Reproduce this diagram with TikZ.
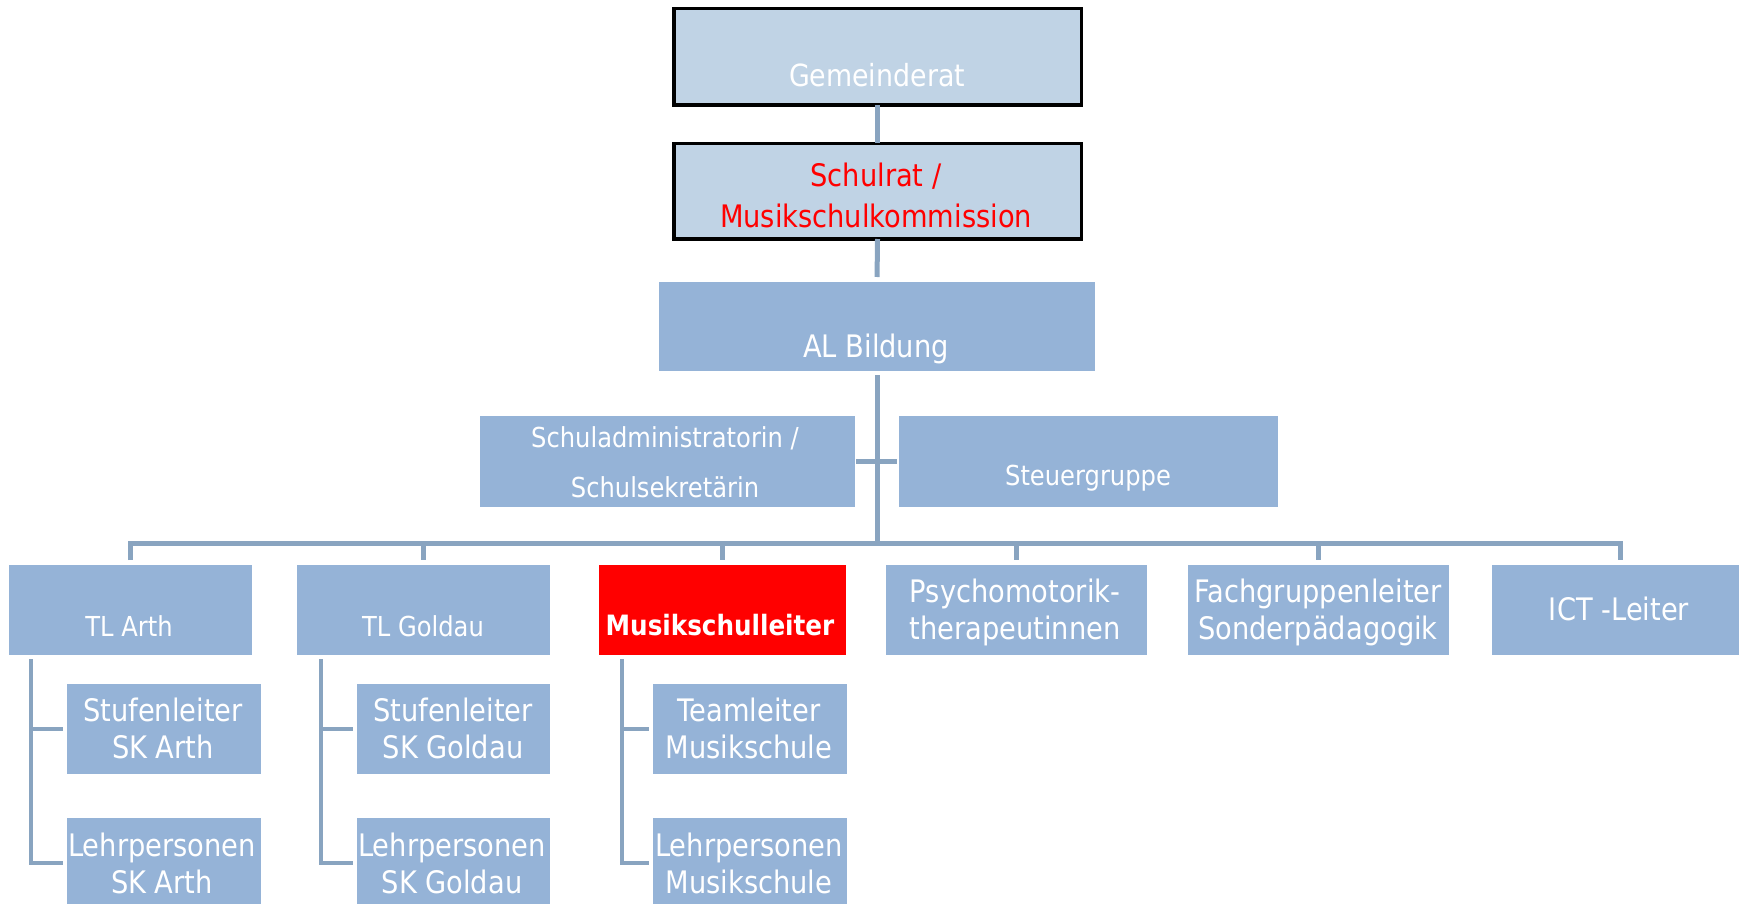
\documentclass[tikz,border=0pt]{standalone}
\usepackage{fontspec}
\setmainfont{DejaVu Sans}[FakeStretch=0.88]
\definecolor{boxblue}{RGB}{149,179,215}
\definecolor{topblue}{RGB}{192,211,229}
\definecolor{connc}{RGB}{137,164,192}
\definecolor{redc}{RGB}{255,0,0}
\begin{document}
\begin{tikzpicture}[x=1pt,y=-1pt,
  bx/.style={rectangle, fill=boxblue, draw=none, inner sep=0pt, outer sep=0pt, anchor=north west},
  topbx/.style={bx, fill=topblue, draw=black, line width=3.5pt},
  redbx/.style={bx, fill=redc},
  big/.style={anchor=base, text=white, inner sep=0pt, align=center, font=\fontsize{31}{37}\selectfont},
  small/.style={big, font=\fontsize{27.5}{50}\selectfont},
  boldt/.style={big, font=\fontsize{28}{34}\selectfont\bfseries},
  conn/.style={draw=connc, line width=5pt}
]
\useasboundingbox (0,0) rectangle (1739,904);

% boxes
\node[topbx, minimum width=407.5pt, minimum height=96.5pt] (gem) at (673.75,8.75) {};
\node[topbx, minimum width=407.5pt, minimum height=95.5pt] (schul) at (673.75,143.5) {};
\node[bx, minimum width=436pt, minimum height=89pt] (al) at (659,282) {};
\node[bx, minimum width=375pt, minimum height=91pt] (admin) at (480,416) {};
\node[bx, minimum width=379pt, minimum height=91pt] (steuer) at (899,416) {};
\node[bx, minimum width=243pt, minimum height=90pt] (tlarth) at (9,565) {};
\node[bx, minimum width=253pt, minimum height=90pt] (tlgold) at (297,565) {};
\node[redbx, minimum width=247pt, minimum height=90pt] (msl) at (599,565) {};
\node[bx, minimum width=261pt, minimum height=90pt] (psy) at (886,565) {};
\node[bx, minimum width=261pt, minimum height=90pt] (fach) at (1188,565) {};
\node[bx, minimum width=256pt, minimum height=90pt] (ict) at (1492,565) {};
\node[bx, minimum width=194pt, minimum height=90pt] (stufa) at (67,684) {};
\node[bx, minimum width=194pt, minimum height=90pt] (lehra) at (67,818) {};
\node[bx, minimum width=193pt, minimum height=90pt] (stufg) at (357,684) {};
\node[bx, minimum width=193pt, minimum height=90pt] (lehrg) at (357,818) {};
\node[bx, minimum width=194pt, minimum height=90pt] (team) at (653,684) {};
\node[bx, minimum width=194pt, minimum height=90pt] (lehrm) at (653,818) {};

% texts (anchor base = baseline of the last line)
\node[big, font=\fontsize{30.5}{37}\selectfont] (tgem) at (877,87) {Gemeinderat};
\node[big, text=redc, font=\fontsize{31}{40}\selectfont] (tschul) at (876,227) {Schulrat /\\Musikschulkommission};
\node[big] (tal) at (876,357) {AL Bildung};
\node[small] (tadmin) at (665,497) {Schuladministratorin /\\Schulsekretärin};
\node[small] (tsteuer) at (1088,485) {Steuergruppe};
\node[small] (ttlarth) at (129,636) {TL Arth};
\node[small] (ttlgold) at (423,636) {TL Goldau};
\node[boldt] (tmsl) at (720,635) {Musikschulleiter};
\node[big] (tpsy) at (1015,639) {Psychomotorik-\\therapeutinnen};
\node[big] (tfach) at (1318,639) {Fachgruppenleiter\\Sonderpädagogik};
\node[big] (tict) at (1619,620) {ICT -Leiter};
\node[big] (tstufa) at (163,758) {Stufenleiter\\SK Arth};
\node[big] (tlehra) at (162,893) {Lehrpersonen\\SK Arth};
\node[big] (tstufg) at (453,758) {Stufenleiter\\SK Goldau};
\node[big] (tlehrg) at (452,893) {Lehrpersonen\\SK Goldau};
\node[big] (tteam) at (749,758) {Teamleiter\\Musikschule};
\node[big] (tlehrm) at (749,893) {Lehrpersonen\\Musikschule};

% connectors
\coordinate (bar) at (877,543);
\draw[conn] (gem.south) -- (schul.north);
\draw[conn, shorten >=5pt] (schul.south) -- (al.north);
\draw[conn, shorten <=4pt] (al.south) -- (bar);
\draw[conn, shorten <=1pt, shorten >=2pt] (admin.east) -- (steuer.west);
\draw[conn] ([yshift=5pt]tlarth.north) -- (tlarth.north |- bar) -- (ict.north |- bar) -- ([yshift=5pt]ict.north);
\draw[conn] (tlgold.north |- bar) -- ([yshift=5pt]tlgold.north);
\draw[conn] (msl.north |- bar) -- ([yshift=5pt]msl.north);
\draw[conn] (psy.north |- bar) -- ([yshift=5pt]psy.north);
\draw[conn] (fach.north |- bar) -- ([yshift=5pt]fach.north);

% brackets
\coordinate (brA) at ([xshift=22pt,yshift=-4pt]tlarth.south west);
\coordinate (brG) at ([xshift=24pt,yshift=-4pt]tlgold.south west);
\coordinate (brM) at ([xshift=23pt,yshift=-4pt]msl.south west);
\draw[conn, line width=4.5pt] (brA) |- ([xshift=-4pt]lehra.west);
\draw[conn, line width=4.5pt] (brA |- stufa.west) -- ([xshift=-4pt]stufa.west);
\draw[conn, line width=4.5pt] (brG) |- ([xshift=-4pt]lehrg.west);
\draw[conn, line width=4.5pt] (brG |- stufg.west) -- ([xshift=-4pt]stufg.west);
\draw[conn, line width=4.5pt] (brM) |- ([xshift=-4pt]lehrm.west);
\draw[conn, line width=4.5pt] (brM |- team.west) -- ([xshift=-4pt]team.west);
\end{tikzpicture}
\end{document}
